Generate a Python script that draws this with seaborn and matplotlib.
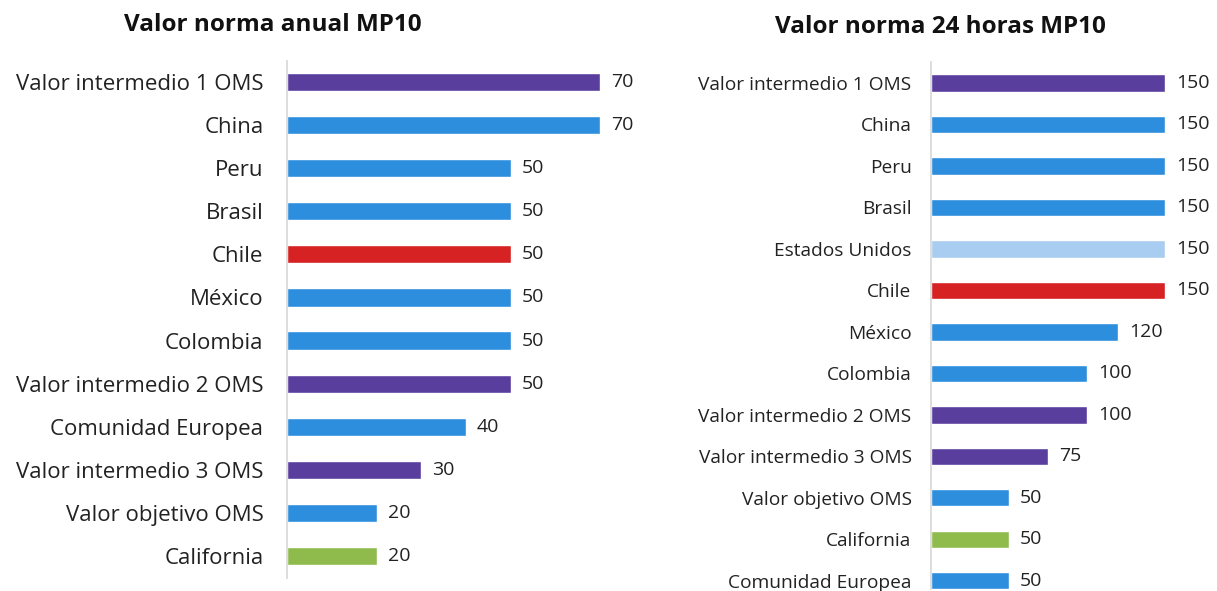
import matplotlib
matplotlib.use("Agg")
import seaborn as sns
from matplotlib import pyplot as plt

# panel 1: annual MP10 standard
anual_labels = ['Valor intermedio 1 OMS', 'China', 'Peru', 'Brasil', 'Chile', 'México', 'Colombia',
                'Valor intermedio 2 OMS', 'Comunidad Europea', 'Valor intermedio 3 OMS',
                'Valor objetivo OMS', 'California']
anual_values = [70, 70, 50, 50, 50, 50, 50, 50, 40, 30, 20, 20]

# panel 2: 24 hour MP10 standard
dia_labels = ['Valor intermedio 1 OMS', 'China', 'Peru', 'Brasil', 'Estados Unidos', 'Chile', 'México',
              'Colombia', 'Valor intermedio 2 OMS', 'Valor intermedio 3 OMS', 'Valor objetivo OMS',
              'California', 'Comunidad Europea']
dia_values = [150, 150, 150, 150, 150, 150, 120, 100, 100, 75, 50, 50, 50]

PURPLE = '#5a3e9e'
BLUE = '#2e8ede'
LIGHT = '#a9cdf0'
RED = '#d62222'
GREEN = '#8fba4c'


def color_for(label):
    if 'intermedio' in label:
        return PURPLE
    if label == 'Chile':
        return RED
    if label == 'California':
        return GREEN
    if label == 'Estados Unidos':
        return LIGHT
    return BLUE


sns.set_theme(style='white')
plt.rcParams['font.family'] = ['Open Sans', 'DejaVu Sans']

fig = plt.figure(figsize=(12.17, 5.91), dpi=100)
W, H = 1217, 591


def panel(rect, labels, values, xmax, ymax, fs, vfs, pad):
    x0, y0, x1, y1 = rect
    ax = fig.add_axes([x0 / W, 1 - y1 / H, (x1 - x0) / W, (y1 - y0) / H])
    sns.barplot(x=values, y=labels, hue=labels, palette={l: color_for(l) for l in labels},
                legend=False, width=0.42, orient='h', ax=ax, saturation=1)
    for c in ax.containers:
        ax.bar_label(c, padding=8, fontsize=vfs, color='#222222')
    ax.set_xlim(0, xmax)
    ax.set_ylim(ymax, -0.5)
    ax.set_xticks([])
    ax.set_xlabel('')
    ax.set_ylabel('')
    for s in ['top', 'right', 'bottom']:
        ax.spines[s].set_visible(False)
    ax.spines['left'].set_color('#d8d8d8')
    ax.tick_params(axis='y', length=0, pad=pad, labelsize=fs, labelcolor='#222222')
    return ax


panel((287, 60.5, 645, 577.5), anual_labels, anual_values, 80, 11.5, 16, 14, 17)
panel((931, 62.25, 1196, 589), dia_labels, dia_values, 170, 12.2, 13.8, 14, 14)

fig.text(273 / W, 1 - 25 / H, 'Valor norma anual MP10', ha='center', va='center',
         fontsize=17.5, fontweight='bold', color='#111111')
fig.text(940 / W, 1 - 27 / H, 'Valor norma 24 horas MP10', ha='center', va='center',
         fontsize=17.5, fontweight='bold', color='#111111')

plt.savefig('out.png', dpi=100)
